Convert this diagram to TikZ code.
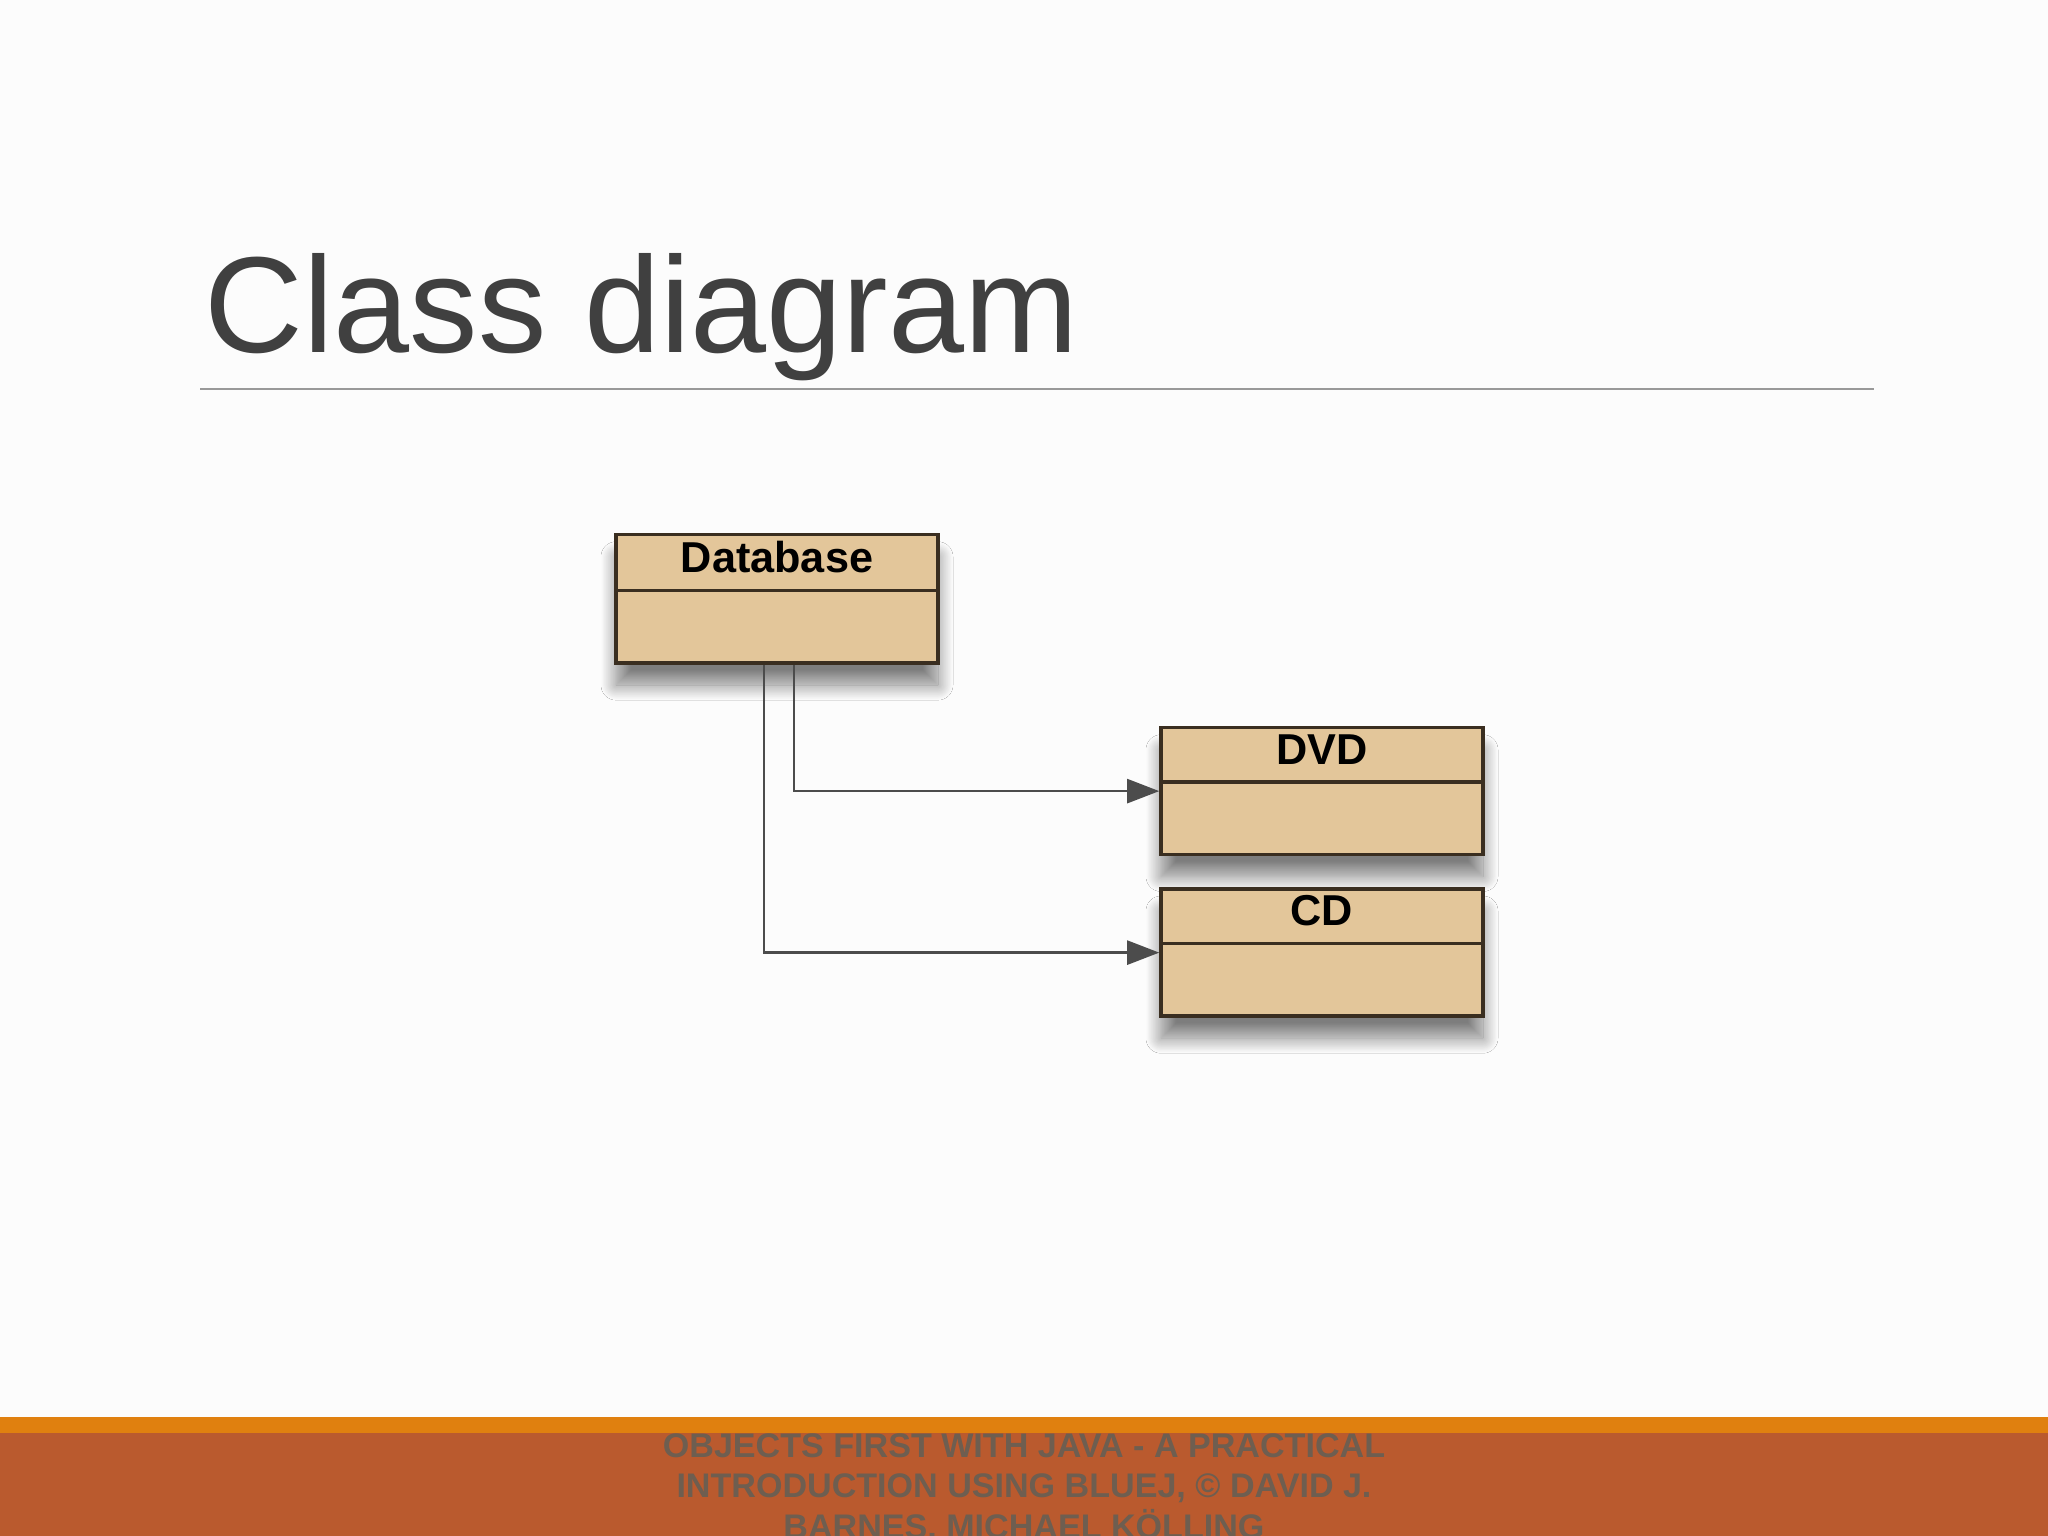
\documentclass[tikz,border=0pt]{standalone}
\usepackage{fontspec}
\setmainfont{Liberation Sans}
\usetikzlibrary{shapes.multipart,arrows.meta,shadows.blur,positioning}

\definecolor{titlegray}{HTML}{404040}
\definecolor{classfill}{HTML}{E3C69A}
\definecolor{classdraw}{HTML}{3A2E20}
\definecolor{footorange}{HTML}{E0800F}
\definecolor{footrust}{HTML}{BA5A2E}
\definecolor{foottext}{HTML}{6E5E50}

\tikzset{
  umlclass/.style={rectangle split, rectangle split parts=2, draw=classdraw,
    line width=1pt, fill=classfill, text width=3.1cm, align=center,
    inner xsep=0.06cm, inner ysep=0.05cm,
    font=\fontsize{12.3}{14}\selectfont\bfseries,
    blur shadow={shadow xshift=0cm, shadow yshift=-0.22cm,
      shadow blur radius=0.15cm, shadow blur steps=24, shadow opacity=50}},
  assoc/.style={draw=black!70, line width=0.7pt,
    -{Triangle[length=0.32cm,width=0.24cm]}}
}
\newcommand{\cname}[1]{\rule[-0.11cm]{0pt}{0.39cm}#1\nodepart{second}\rule{0pt}{0.59cm}}

\begin{document}
\begin{tikzpicture}
  \useasboundingbox (0,0) rectangle (20.48,15.36);
  \fill[white!99!black] (0,0) rectangle (20.48,15.36);

  % title
  \node[anchor=base west, inner sep=0, text=titlegray,
    font=\fontsize{38.9}{46}\selectfont] (title) at (2.04,11.83) {Class diagram};
  \draw[black!40, line width=0.6pt] (2.0,11.47) -- (18.74,11.47);

  % classes
  \node[umlclass, anchor=north] (database) at (7.77,10.03) {\cname{Database}};
  \node[umlclass, anchor=north] (dvd) at (13.22,8.10) {\cname{DVD}};
  \node[umlclass, below=0.31cm of dvd] (cd) {\cname{CD}};

  % associations
  \draw[assoc] ([xshift=0.17cm]database.south) |- (dvd.west);
  \draw[assoc] ([xshift=-0.13cm]database.south) |- (cd.west);

  % footer
  \fill[footrust] (0,0) rectangle (20.48,1.03);
  \fill[footorange] (0,1.03) rectangle (20.48,1.19);
  \begin{scope}
    \clip (0,0) rectangle (20.48,15.36);
    \node[text=foottext, font=\fontsize{9.7}{11.5}\selectfont\bfseries,
      align=center, anchor=north, inner sep=0] (footer) at (10.24,1.03)
      {OBJECTS FIRST WITH JAVA - A PRACTICAL\\INTRODUCTION USING BLUEJ, © DAVID J.\\BARNES, MICHAEL KÖLLING};
  \end{scope}
\end{tikzpicture}
\end{document}
